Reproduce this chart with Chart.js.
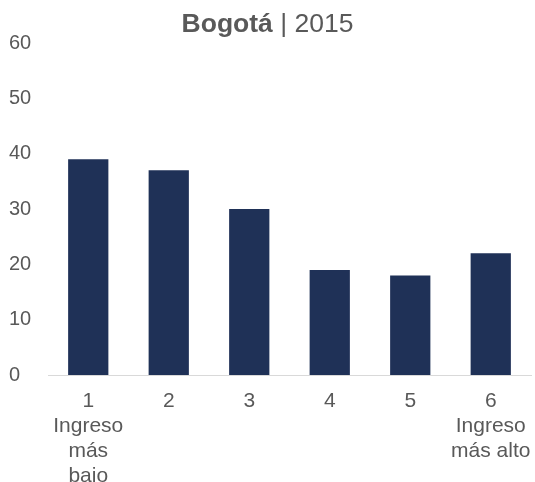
<!DOCTYPE html>
<html>
<head>
<meta charset="utf-8">
<script src="https://cdn.jsdelivr.net/npm/chart.js@4/dist/chart.umd.min.js"></script>
<style>
html,body{margin:0;padding:0;background:#fff;overflow:hidden;}
#wrap{position:relative;width:535px;height:513px;}
#title{position:absolute;left:0;width:535px;top:8px;text-align:center;
font-family:"Liberation Sans",Arial,sans-serif;font-size:26.5px;color:#595959;}
canvas{position:absolute;left:0;top:0;}
</style>
</head>
<body>
<div id="wrap">
<canvas id="chart" width="535" height="513"></canvas>
<div id="title"><b>Bogotá</b> | 2015</div>
</div>
<script>
const categories = [
  ["1","Ingreso","más","bajo"],
  ["2"],
  ["3"],
  ["4"],
  ["5"],
  ["6","Ingreso","más alto"]
];
const values = [39, 37, 30, 19, 18, 22];
const yTicks = [0, 10, 20, 30, 40, 50, 60];

const BAR = "#1f3157";
const TEXT = "#595959";

Chart.defaults.font.family = "'Liberation Sans', Arial, sans-serif";
Chart.defaults.font.size = 20;
Chart.defaults.color = TEXT;

new Chart(document.getElementById("chart"), {
  type: "bar",
  data: {
    labels: categories,
    datasets: [{
      data: values,
      backgroundColor: BAR,
      categoryPercentage: 1,
      barPercentage: 0.5
    }]
  },
  options: {
    responsive: false,
    animation: false,
    layout: { padding: { top: 43, left: 9, right: 4, bottom: 10 } },
    plugins: { legend: { display: false }, tooltip: { enabled: false } },
    scales: {
      x: {
        grid: { display: false, drawTicks: false },
        border: { display: true, color: "#d9d9d9", width: 1 },
        ticks: { padding: 14, maxRotation: 0, autoSkip: false, font: { size: 21, lineHeight: 1.19 } },
        afterFit: s => { s.paddingLeft = 0; s.paddingRight = 0; }
      },
      y: {
        min: yTicks[0],
        max: yTicks[yTicks.length - 1],
        afterBuildTicks: s => { s.ticks = yTicks.map(v => ({ value: v })); },
        grid: { display: false, drawTicks: false },
        border: { display: false },
        ticks: { padding: 16, crossAlign: "far" },
        afterFit: s => { s.width = 39; }
      }
    }
  }
});
</script>
</body>
</html>
